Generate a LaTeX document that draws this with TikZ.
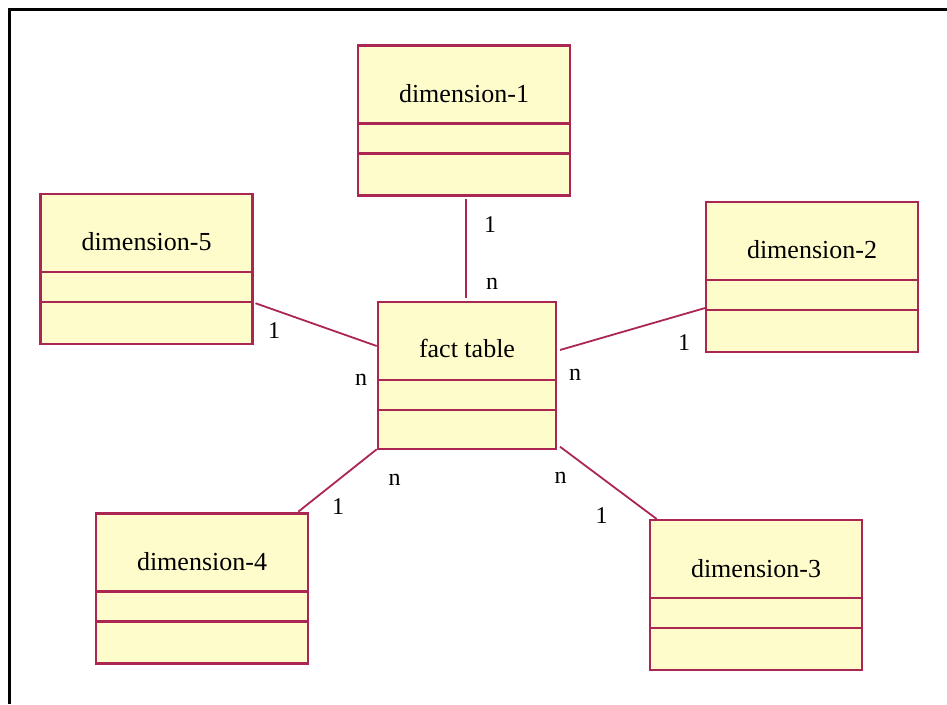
\documentclass[tikz,border=0pt]{standalone}
\usepackage{fontspec}
\setmainfont{Liberation Serif}
\usetikzlibrary{calc}
\definecolor{roseline}{RGB}{172,38,84}
\definecolor{rosefill}{RGB}{255,252,204}
\begin{document}
\begin{tikzpicture}[x=1pt,y=-1pt,
  entity/.style={draw=roseline,fill=rosefill,line width=2.2pt,rectangle,
    inner sep=0pt,outer sep=0pt},
  title/.style={anchor=base,font=\fontsize{26}{30}\selectfont,inner sep=0pt},
  divider/.style={draw=roseline,line width=2.2pt},
  link/.style={draw=roseline,line width=1.8pt},
  mult/.style={font=\fontsize{24}{28}\selectfont,inner sep=0pt}]
\useasboundingbox (0,0) rectangle (947,704);
\fill[white] (0,0) rectangle (947,704);
% frame (top and left edges only)
\draw[line width=2.6pt] (9.3,704) -- (9.3,9.3) -- (947,9.3);

% class boxes: name / centre x / centre y / width / height / title offset / title
\foreach \n/\x/\y/\w/\h/\o/\t in {
    d1/464/120.5/212/150/57/dimension-1,
    d2/812/276.75/212/150/57/dimension-2,
    d3/756/595/212/150/57/dimension-3,
    d4/202/588.5/212/150/57/dimension-4,
    d5/146.5/268.75/212/150/57/dimension-5,
    fact/467/375.5/178/147/55/fact table}{
  \node[entity,minimum width=\w pt,minimum height=\h pt] (\n) at (\x,\y) {};
  \draw[divider] ($(\n.north west)+(0,78)$) -- ($(\n.north east)+(0,78)$);
  \draw[divider] ($(\n.north west)+(0,108)$) -- ($(\n.north east)+(0,108)$);
  \node[title] (\n-title) at ($(\n.north)+(0,\o)$) {\t};
}

% associations
\draw[link] ($(d1.south)+(2,3.5)$) -- ($(fact.north)+(-1,-4)$);
\draw[link] ($(d5.east)+(3,34.5)$) -- ($(fact.west)+(-1.3,-29.5)$);
\draw[link] ($(fact.east)+(4,-25.5)$) -- ($(d2.west)+(0,31)$);
\draw[link] ($(d4.north east)+(-9.7,-1.8)$) -- ($(fact.south west)+(-1.3,0.3)$);
\draw[link] ($(fact.south east)+(4,-2.3)$) -- ($(d3.north west)+(6.7,-1)$);

% multiplicities
\node[mult] (m1a) at (490,225) {1};
\node[mult] (m1b) at (492,284) {n};
\node[mult] (m5a) at (274,331) {1};
\node[mult] (m5b) at (361,380) {n};
\node[mult] (m2a) at (684,343) {1};
\node[mult] (m2b) at (575,375) {n};
\node[mult] (m4a) at (338,507) {1};
\node[mult] (m4b) at (394.5,480) {n};
\node[mult] (m3b) at (560.5,478) {n};
\node[mult] (m3a) at (601.5,516) {1};
\end{tikzpicture}
\end{document}
